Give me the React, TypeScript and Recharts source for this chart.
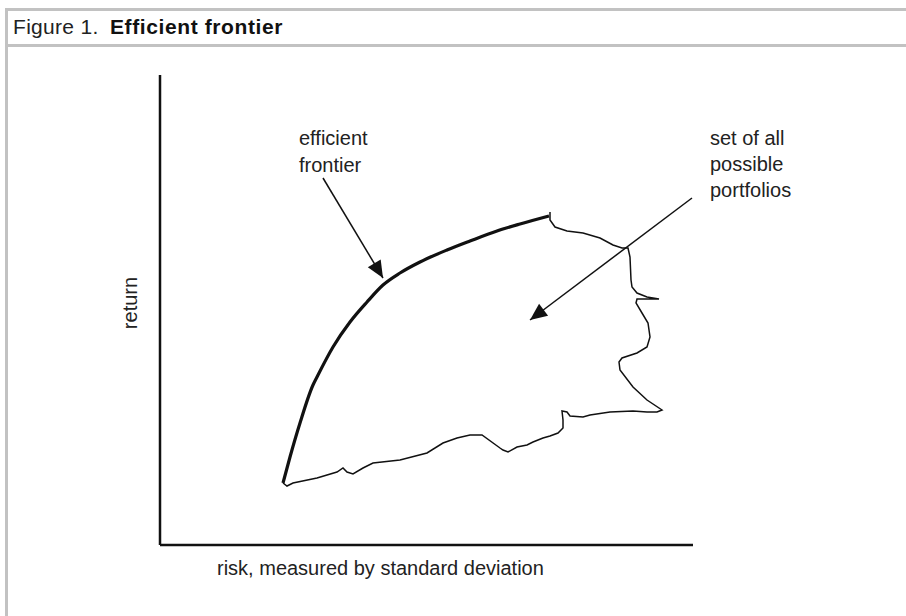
import { ComposedChart, Line, Scatter, XAxis, YAxis, ReferenceLine } from 'recharts'

// units: risk / return (arbitrary scale, 0 at the axes)
const frontier = [
  { x: 123, y: 62 }, { x: 130, y: 88 }, { x: 140, y: 122 }, { x: 153, y: 160 },
  { x: 157, y: 168 }, { x: 173, y: 198 }, { x: 190, y: 223 },
  { x: 207, y: 243 }, { x: 223, y: 260 }, { x: 240, y: 272 }, { x: 260, y: 283 },
  { x: 287, y: 295 }, { x: 310, y: 304 }, { x: 337, y: 314 }, { x: 360, y: 321 },
  { x: 389, y: 329 },
]

const portfolioEdge = [
  { x: 390, y: 333 }, { x: 390, y: 325 }, { x: 395, y: 318 }, { x: 407, y: 314 },
  { x: 423, y: 312 }, { x: 440, y: 307 }, { x: 453, y: 300 }, { x: 462, y: 297 },
  { x: 468, y: 297 }, { x: 470, y: 288 }, { x: 471, y: 265 }, { x: 472, y: 258 },
  { x: 477, y: 252 }, { x: 487, y: 248 }, { x: 499, y: 246 }, { x: 477, y: 246 },
  { x: 476, y: 242 }, { x: 482, y: 232 }, { x: 488, y: 222 }, { x: 490, y: 208 },
  { x: 487, y: 198 }, { x: 477, y: 192 }, { x: 462, y: 187 }, { x: 459, y: 183 },
  { x: 460, y: 175 }, { x: 473, y: 158 }, { x: 487, y: 145 }, { x: 502, y: 135 },
  { x: 497, y: 133 }, { x: 487, y: 133 }, { x: 473, y: 134 }, { x: 450, y: 133 },
  { x: 430, y: 130 }, { x: 423, y: 128 }, { x: 410, y: 129 }, { x: 407, y: 133 },
  { x: 402, y: 134 }, { x: 403, y: 125 }, { x: 403, y: 117 }, { x: 398, y: 112 },
  { x: 390, y: 109 }, { x: 383, y: 107 }, { x: 373, y: 103 }, { x: 367, y: 100 },
  { x: 357, y: 98 }, { x: 348, y: 93 }, { x: 343, y: 95 }, { x: 340, y: 97 },
  { x: 322, y: 110 }, { x: 310, y: 110 }, { x: 297, y: 107 }, { x: 283, y: 102 },
  { x: 267, y: 92 }, { x: 240, y: 85 }, { x: 213, y: 82 }, { x: 203, y: 77 },
  { x: 193, y: 71 }, { x: 187, y: 73 }, { x: 183, y: 77 }, { x: 177, y: 73 },
  { x: 157, y: 67 }, { x: 133, y: 62 }, { x: 127, y: 59 }, { x: 123, y: 62 },
]

// annotation arrows: tail -> tip
const arrows = [
  { tx: 163, ty: 367, x: 223, y: 267 },
  { tx: 532, ty: 347, x: 370, y: 225 },
]

const W = 906
const H = 616
const PLOT = { left: 160, top: 75, right: 693, bottom: 545 }
const font = '"Liberation Sans", Arial, sans-serif'

function ArrowHead(props: any) {
  const { cx, cy, payload } = props
  // one data unit is one pixel on both axes
  const ang = Math.atan2(-(payload.y - payload.ty), payload.x - payload.tx)
  const len = 17, half = 7.5
  const bx = cx - Math.cos(ang) * len, by = cy - Math.sin(ang) * len
  const px = -Math.sin(ang) * half, py = Math.cos(ang) * half
  return <polygon points={`${cx},${cy} ${bx + px},${by + py} ${bx - px},${by - py}`} fill="#111" />
}

export default function App() {
  return (
    <div style={{ position: 'absolute', left: 0, top: 0, width: W, height: H, background: '#fff' }}>
      <ComposedChart width={W} height={H}
        margin={{ top: PLOT.top, left: PLOT.left - 2, right: W - PLOT.right, bottom: H - PLOT.bottom - 2 }}>
        <XAxis type="number" dataKey="x" domain={[0, PLOT.right - PLOT.left]} height={2}
          tick={false} tickLine={false} axisLine={{ stroke: '#111', strokeWidth: 2.5 }} />
        <YAxis type="number" dataKey="y" domain={[0, PLOT.bottom - PLOT.top]} width={2}
          tick={false} tickLine={false} axisLine={{ stroke: '#111', strokeWidth: 2.5 }} />
        <Line data={portfolioEdge} dataKey="y" type="linear" stroke="#111" strokeWidth={1.5}
          dot={false} activeDot={false} isAnimationActive={false} />
        <Line data={frontier} dataKey="y" type="monotone" stroke="#111" strokeWidth={3.2}
          dot={false} activeDot={false} isAnimationActive={false} />
        {arrows.map((a, i) => (
          <ReferenceLine key={i} segment={[{ x: a.tx, y: a.ty }, { x: a.x, y: a.y }]}
            stroke="#111" strokeWidth={1.5} />
        ))}
        <Scatter data={arrows} dataKey="y" shape={ArrowHead} isAnimationActive={false} />
      </ComposedChart>

      <svg width={W} height={H} style={{ position: 'absolute', left: 0, top: 0, pointerEvents: 'none' }}
        fontFamily={font} fontSize={20} fill="#222">
        <rect x={5} y={8} width={W - 5} height={3} fill="#c2c2c2" />
        <rect x={5} y={44} width={W - 5} height={3} fill="#c2c2c2" />
        <rect x={5} y={8} width={3} height={H - 8} fill="#c2c2c2" />
        <text x={13} y={34} fontSize={21} letterSpacing={0.3}>Figure 1.</text>
        <text x={110} y={34} fontSize={21} fontWeight="bold" letterSpacing={0.6} fill="#111">Efficient frontier</text>

        <text x={299} y={145}>efficient</text>
        <text x={299} y={172}>frontier</text>
        <text x={710} y={145}>set of all</text>
        <text x={710} y={171}>possible</text>
        <text x={710} y={197}>portfolios</text>

        <text transform="translate(137,303) rotate(-90)" textAnchor="middle">return</text>
        <text x={217} y={575}>risk, measured by standard deviation</text>
      </svg>
    </div>
  )
}
